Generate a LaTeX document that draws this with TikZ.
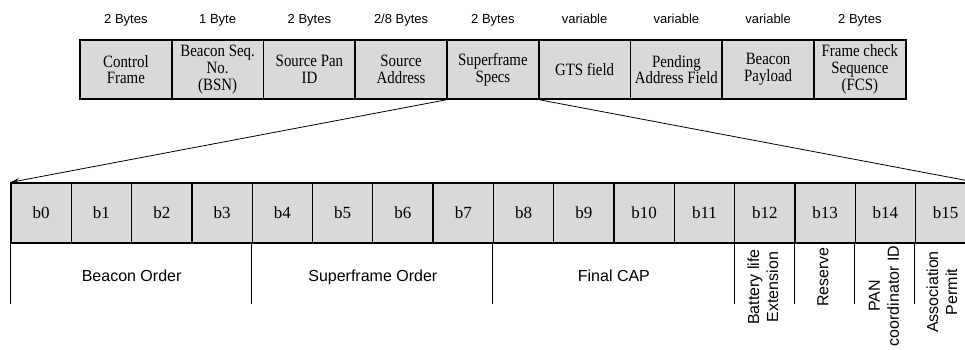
\documentclass[tikz,border=0pt]{standalone}
\usepackage{fontspec}
\setmainfont{Liberation Serif}
\setsansfont{Liberation Sans}
\newfontfamily\narrowserif[FakeStretch=0.86]{Liberation Serif}
\usepackage{tikz}
\usetikzlibrary{arrows.meta, positioning, calc}
\usepackage{xcolor}
\definecolor{cellgray}{HTML}{D9D9D9}

\begin{document}
\begin{tikzpicture}[
    x=1pt, y=-1pt,
    field/.style = {rectangle, draw=black, fill=cellgray, line width=1.6pt, minimum width=91.75pt, minimum height=59pt, inner sep=0pt, align=center, font=\narrowserif\fontsize{17.3}{16.8}\selectfont},
    bitcell/.style = {rectangle, draw=black, fill=cellgray, line width=1.3pt, minimum width=60.3pt, minimum height=60pt, inner sep=0pt, font=\fontsize{17}{18}\selectfont},
    hdr/.style = {font=\sffamily\fontsize{13}{15}\selectfont, inner sep=0pt, text depth=3pt},
    grp/.style = {font=\sffamily\fontsize{16}{19}\selectfont, inner sep=0pt, anchor=base},
    flag/.style = {font=\sffamily\fontsize{16}{19}\selectfont, inner sep=0pt, rotate=90, align=center},
    tick/.style = {draw=black, line width=0.8pt},
    zoom/.style = {draw=black, line width=0.8pt, -{Stealth[length=9pt, width=5pt]}}
]
\useasboundingbox (0,0) rectangle (965,349);

% Beacon frame
\node (cf)  [field, label={[hdr, label distance=12.5pt]above:2 Bytes}] at (125.9, 69.5) {Control\\Frame};
\node (bsn) [field, label={[hdr, label distance=12.5pt]above:1 Byte}] at (217.6, 69.5) {Beacon Seq.\\No.\\(BSN)};
\node (pan) [field, label={[hdr, label distance=12.5pt]above:2 Bytes}] at (309.4, 69.5) {Source Pan\\ID};
\node (sa)  [field, label={[hdr, label distance=12.5pt]above:2/8 Bytes}] at (401.1, 69.5) {Source\\Address};
\node (ss)  [field, label={[hdr, label distance=12.5pt]above:2 Bytes}] at (492.9, 69.5) {Superframe\\Specs};
\node (gts) [field, label={[hdr, label distance=12.5pt]above:variable}] at (584.6, 69.5) {GTS field};
\node (pa)  [field, label={[hdr, label distance=12.5pt]above:variable}] at (676.4, 69.5) {Pending\\Address Field};
\node (bp)  [field, label={[hdr, label distance=12.5pt]above:variable}] at (768.1, 69.5) {Beacon\\Payload};
\node (fcs) [field, label={[hdr, label distance=12.5pt]above:2 Bytes}] at (859.9, 69.5) {Frame check\\Sequence\\(FCS)};

% Superframe specification bits
\node (b0)  [bitcell] at (41.15, 213) {b0};
\node (b1)  [bitcell] at (101.45, 213) {b1};
\node (b2)  [bitcell] at (161.75, 213) {b2};
\node (b3)  [bitcell] at (222.05, 213) {b3};
\node (b4)  [bitcell] at (282.35, 213) {b4};
\node (b5)  [bitcell] at (342.65, 213) {b5};
\node (b6)  [bitcell] at (402.95, 213) {b6};
\node (b7)  [bitcell] at (463.25, 213) {b7};
\node (b8)  [bitcell] at (523.55, 213) {b8};
\node (b9)  [bitcell] at (583.85, 213) {b9};
\node (b10) [bitcell] at (644.15, 213) {b10};
\node (b11) [bitcell] at (704.45, 213) {b11};
\node (b12) [bitcell] at (764.75, 213) {b12};
\node (b13) [bitcell] at (825.05, 213) {b13};
\node (b14) [bitcell] at (885.35, 213) {b14};
\node (b15) [bitcell] at (945.65, 213) {b15};

% Zoom lines
\draw [zoom] (ss.south west) -- (b0.north west);
\draw [zoom] (ss.south east) -- (b15.north east);

% Group separators
\draw [tick] (b0.south west) -- ++(0,60);
\draw [tick] (b4.south west) -- ++(0,60);
\draw [tick] (b8.south west) -- ++(0,60);
\draw [tick] (b12.south west) -- ++(0,60);
\draw [tick] (b13.south west) -- ++(0,60);
\draw [tick] (b14.south west) -- ++(0,60);
\draw [tick] (b15.south west) -- ++(0,60);

% Group names
\node (bo)  [grp] at (131.6, 281) {Beacon Order};
\node (so)  [grp] at (372.8, 281) {Superframe Order};
\node (cap) [grp] at (613.9, 281) {Final CAP};
\node (ble) [flag] at (763, 287) {Battery life\\Extension};
\node (res) [flag] at (823, 277) {Reserve};
\node (pid) [flag] at (884, 296) {PAN\\coordinator ID};
\node (ap)  [flag] at (942, 292) {Association\\Permit};

\end{tikzpicture}
\end{document}
